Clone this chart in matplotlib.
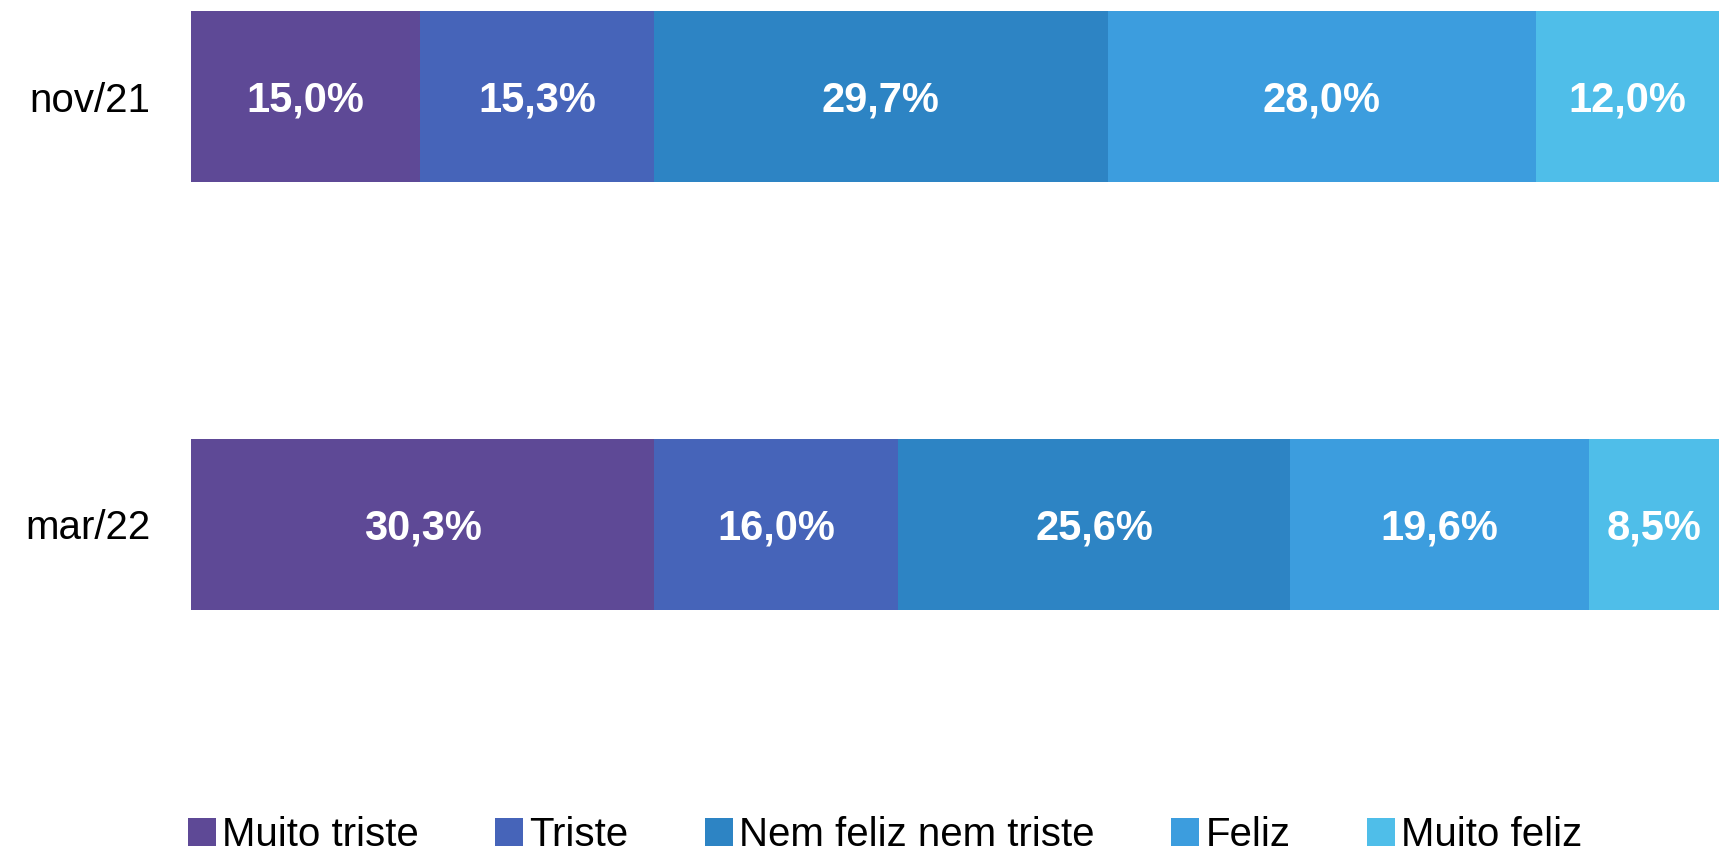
import matplotlib
matplotlib.use("Agg")
import matplotlib.pyplot as plt
import numpy as np

plt.rcParams["font.family"] = ["Liberation Sans", "DejaVu Sans"]

periods = ["nov/21", "mar/22"]
categories = ["Muito triste", "Triste", "Nem feliz nem triste", "Feliz", "Muito feliz"]
values = {
    "nov/21": [15.0, 15.3, 29.7, 28.0, 12.0],
    "mar/22": [30.3, 16.0, 25.6, 19.6, 8.5],
}
colors = ["#5E4996", "#4664B9", "#2D84C4", "#3C9DDE", "#4FBEE9"]

fig = plt.figure(figsize=(17.19, 8.55), dpi=100)
ax = fig.add_axes([191 / 1719, 1 - 610 / 855, 1 - 191 / 1719, (610 - 11) / 855])

ypos = {"nov/21": 1, "mar/22": 0}
h = 0.4
for p in periods:
    left = 0
    for i, (cat, v) in enumerate(zip(categories, values[p])):
        ax.barh(ypos[p], v, left=left, height=h, color=colors[i],
                label=cat if p == periods[0] else None)
        ax.text(left + v / 2, ypos[p] - 0.01, f"{v:.1f}%".replace(".", ","),
                ha="center", va="center", color="white",
                fontsize=30, fontweight="bold")
        left += v

ax.set_xlim(0, 100)
ax.set_ylim(-h / 2, 1 + h / 2)
ax.set_yticks([ypos[p] for p in periods])
ax.set_yticklabels(periods, fontsize=29)
ax.tick_params(axis="y", length=0, pad=29)
ax.set_xticks([])
for s in ax.spines.values():
    s.set_visible(False)

fig.legend(loc="center", bbox_to_anchor=(885 / 1719, 1 - 835 / 855), ncol=5,
           frameon=False, fontsize=29, handlelength=0.7, handleheight=0.7,
           handletextpad=0.15, columnspacing=1.9)

fig.savefig("out.png", dpi=100)
